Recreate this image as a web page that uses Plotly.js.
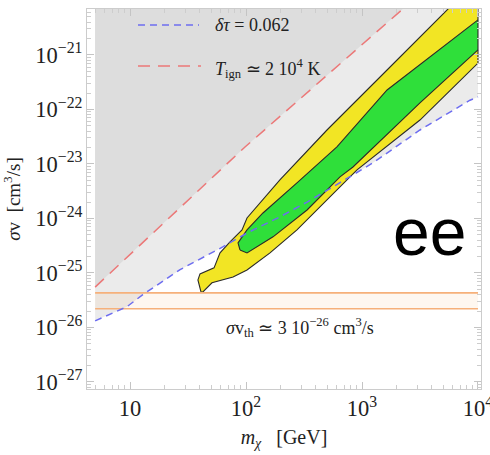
<!DOCTYPE html>
<html>
<head>
<meta charset="utf-8">
<script src="https://cdn.plot.ly/plotly-3.0.1.min.js"></script>
<style>html,body{margin:0;padding:0;background:#fff;}#chart{width:490px;height:455px;}</style>
</head>
<body>
<div id="chart"></div>
<script>
// ---- data ----
// delta tau = 0.062 constraint (blue dashed)
const massBlue  = [5, 9.4, 12.9, 27, 63, 102, 196, 336, 562, 1245, 3160, 8530, 10000];
const sigmaBlue = [1.32e-26, 2.4e-26, 4.0e-26, 1.15e-25, 3.0e-25, 5.4e-25, 1.07e-24, 2.0e-24, 3.8e-24, 1.05e-23, 4.2e-23, 1.48e-22, 1.7e-22];
// T_ign ~ 2 10^4 K constraint (red dashed)
const massRed  = [5, 20.8, 98, 2250];
const sigmaRed = [5.5e-26, 9.4e-25, 2.05e-23, 7.0e-21];
// outer (yellow) contour: upper edge then lower edge
const yellowX = [40.9, 38.5, 40.1, 53, 59.7, 72.8, 92.4, 102, 196, 499, 1645, 5410, 6530, 10000, 10000, 3160, 906, 646, 434, 275, 161, 102, 77.3, 63.4, 50.9, 42.5, 40.9];
const yellowY = [4.48e-26, 7.45e-26, 9.6e-26, 1.24e-25, 2.33e-25, 3.71e-25, 6.15e-25, 1.02e-24, 5.1e-24, 4.2e-23, 5.3e-22, 6.7e-21, 1e-20, 1e-20, 7.1e-22, 6.4e-23, 7.8e-24, 3.8e-24, 1.63e-24, 6.15e-25, 2.33e-25, 1.13e-25, 8.45e-26, 7.45e-26, 6.6e-26, 4.48e-26, 4.48e-26];
const yellowBreak = 13; // index where the contour runs along the frame edge
// inner (green) contour
const greenX = [88.7, 85.3, 102, 140, 275, 608, 1645, 10000, 10000, 3160, 836, 646, 336, 171, 102, 88.7];
const greenY = [2.64e-25, 3.55e-25, 6.15e-25, 1.26e-24, 4.5e-24, 2.05e-23, 2.28e-22, 4.4e-21, 1.24e-21, 1.32e-22, 8.8e-24, 5.8e-24, 1.43e-24, 4.6e-25, 2.33e-25, 2.64e-25];
const greenBreak = 8;
// thermal cross-section band
const thermalBand = [2.2e-26, 4.3e-26];
const massRange = [5, 10000];
const sigmaTop = 1e-20;

// ---- build traces ----
function outline(xs, ys, brk) {
  return {x: xs.slice(0, brk).concat([null], xs.slice(brk)),
          y: ys.slice(0, brk).concat([null], ys.slice(brk))};
}
const lightGray = {
  x: massBlue.concat([massRange[1], massRange[0]]),
  y: sigmaBlue.concat([sigmaTop, sigmaTop]),
  fill: 'toself', fillcolor: '#ebebeb', mode: 'lines', line: {width: 0}, hoverinfo: 'skip'
};
const darkGray = {
  x: massRed.concat([massRange[0]]),
  y: sigmaRed.concat([sigmaTop]),
  fill: 'toself', fillcolor: '#dddddd', mode: 'lines', line: {width: 0}, hoverinfo: 'skip'
};
const band = {
  x: [massRange[0], massRange[1], massRange[1], massRange[0]],
  y: [thermalBand[0], thermalBand[0], thermalBand[1], thermalBand[1]],
  fill: 'toself', fillcolor: 'rgba(250,190,140,0.13)', mode: 'lines', line: {width: 0}, hoverinfo: 'skip'
};
const bandLow = {x: massRange, y: [thermalBand[0], thermalBand[0]], mode: 'lines', line: {color: '#f6b07a', width: 1.6}};
const bandHigh = {x: massRange, y: [thermalBand[1], thermalBand[1]], mode: 'lines', line: {color: '#f6b07a', width: 1.6}};
const yellowFill = {x: yellowX, y: yellowY, fill: 'toself', fillcolor: '#f2e524', mode: 'lines', line: {width: 0}};
const yo = outline(yellowX, yellowY, yellowBreak);
const yellowLine = {x: yo.x, y: yo.y, mode: 'lines', connectgaps: false, line: {color: '#2a2a2a', width: 1.1}};
const greenFill = {x: greenX, y: greenY, fill: 'toself', fillcolor: '#2fdf3a', mode: 'lines', line: {width: 0}};
const go = outline(greenX, greenY, greenBreak);
const greenLine = {x: go.x, y: go.y, mode: 'lines', connectgaps: false, line: {color: '#2a2a2a', width: 1.1}};
const blueLine = {x: massBlue, y: sigmaBlue, mode: 'lines', line: {color: '#6d6df0', width: 1.5, dash: '7px,5px'}};
const redLine = {x: massRed, y: sigmaRed, mode: 'lines', line: {color: '#ec7878', width: 1.5, dash: '12px,8px'}};

const data = [lightGray, darkGray, band, yellowFill, greenFill, yellowLine, greenLine, bandLow, bandHigh, blueLine, redLine];

const tickFont = {family: 'Liberation Serif', size: 18, color: '#222'};
const axisCommon = {
  type: 'log', dtick: 1, exponentformat: 'power', showgrid: false, zeroline: false,
  showline: true, linecolor: '#cccccc', linewidth: 1, mirror: 'allticks',
  ticks: 'inside', ticklen: 7, tickcolor: '#c4c4c4', tickwidth: 1,
  minor: {ticks: 'inside', ticklen: 4, tickcolor: '#cdcdcd', dtick: 'D1', showgrid: false},
  tickfont: tickFont, ticklabeloverflow: 'allow'
};
const px = (p) => (p - 87) / 394;
const py = (p) => (389 - p) / 380;

const layout = {
  width: 490, height: 455,
  margin: {l: 87, r: 9, t: 9, b: 66},
  paper_bgcolor: '#fff', plot_bgcolor: '#fff',
  showlegend: false,
  font: {family: 'Liberation Serif', size: 18, color: '#222'},
  xaxis: Object.assign({}, axisCommon, {
    range: [0.629, 4.026],
    title: {text: '<i>m<sub>χ</sub></i>   [GeV]', font: {family: 'Liberation Serif', size: 20, color: '#222'}, standoff: 9}
  }),
  yaxis: Object.assign({}, axisCommon, {
    range: [-27.13, -20.156],
    title: {text: '<i>σ</i>v  [cm<sup>3</sup>/s]', font: {family: 'Liberation Serif', size: 19, color: '#222'}, standoff: 14}
  }),
  shapes: [
    {type: 'line', xref: 'paper', yref: 'paper', x0: px(138), x1: px(199), y0: py(25), y1: py(25), line: {color: '#6d6df0', width: 1.5, dash: '7px,5px'}},
    {type: 'line', xref: 'paper', yref: 'paper', x0: px(138), x1: px(201), y0: py(66), y1: py(66), line: {color: '#ec7878', width: 1.5, dash: '12px,8px'}}
  ],
  annotations: [
    {xref: 'paper', yref: 'paper', x: px(213), y: py(25), xanchor: 'left', yanchor: 'middle', showarrow: false,
     text: '<i>δτ</i> = 0.062', font: {family: 'Liberation Serif', size: 18, color: '#222'}},
    {xref: 'paper', yref: 'paper', x: px(213), y: py(68), xanchor: 'left', yanchor: 'middle', showarrow: false,
     text: '<i>T</i><sub>ign</sub> ≃ 2 10<sup>4</sup> K', font: {family: 'Liberation Serif', size: 18, color: '#222'}},
    {xref: 'paper', yref: 'paper', x: px(300), y: py(327), xanchor: 'center', yanchor: 'middle', showarrow: false,
     text: '<i>σ</i>v<sub>th</sub> ≃ 3 10<sup>−26</sup> cm<sup>3</sup>/s', font: {family: 'Liberation Serif', size: 18, color: '#222'}},
    {xref: 'paper', yref: 'paper', x: px(429), y: py(232), xanchor: 'center', yanchor: 'middle', showarrow: false,
     text: 'ee', font: {family: 'Liberation Sans', size: 66, color: '#000'}}
  ]
};

Plotly.newPlot('chart', data, layout, {staticPlot: true, displayModeBar: false});
</script>
</body>
</html>
